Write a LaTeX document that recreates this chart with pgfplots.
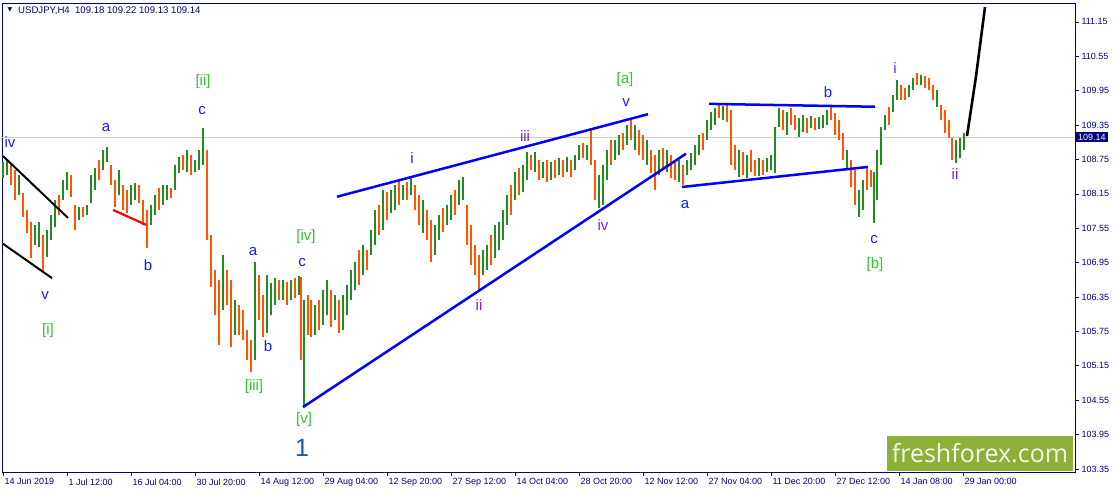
\documentclass[border=0pt]{standalone}
\usepackage{pgfplots}
\usepackage{pgfplotstable}
\pgfplotsset{compat=1.18}
\usepackage{fontspec}
\setmainfont{Liberation Sans}
\newfontfamily\logofont{Open Sans}
\newfontfamily\symfont{DejaVu Sans}
\definecolor{cgreen}{RGB}{34,139,34}
\definecolor{corange}{RGB}{255,85,0}
\definecolor{navy}{RGB}{0,0,128}
\definecolor{wblue}{RGB}{25,25,255}
\definecolor{wpurple}{RGB}{120,30,230}
\definecolor{wgreen}{RGB}{50,195,45}
\definecolor{onecol}{RGB}{30,80,200}
\definecolor{logocol}{RGB}{141,176,56}
\definecolor{pricegray}{RGB}{205,205,205}

\pgfplotstableread{
x lo hi
3 108.43 108.71
7 108.48 108.74
19 108.13 108.48
35 107.26 107.61
39 107.22 107.66
47 107.05 107.52
51 107.35 107.78
55 107.57 108.04
63 108.04 108.39
67 108.22 108.53
79 107.70 107.92
87 107.78 107.96
91 107.99 108.48
95 108.22 108.60
103 108.57 108.92
107 108.71 108.97
119 108.13 108.57
131 107.96 108.31
135 108.04 108.34
151 107.61 107.96
155 107.78 108.13
163 107.96 108.31
167 108.04 108.31
175 108.22 108.65
179 108.52 108.79
187 108.53 108.92
195 108.53 108.74
199 108.57 108.92
203 108.65 109.30
223 106.12 107.08
235 105.69 106.30
255 105.25 106.96
267 105.72 106.74
271 106.04 106.60
275 106.21 106.68
283 106.30 106.65
291 106.30 106.65
299 106.39 106.72
304 104.43 106.30
315 105.69 106.21
323 105.86 106.47
327 106.04 106.65
335 105.95 106.39
343 105.78 106.39
347 106.04 106.56
351 106.30 106.82
355 106.47 106.96
363 106.74 107.26
371 107.08 107.52
375 107.26 107.87
383 107.52 108.22
391 107.82 108.22
395 107.87 108.31
403 108.04 108.31
411 108.13 108.43
423 107.47 108.04
435 107.08 107.61
439 107.35 107.78
447 107.61 107.96
451 107.70 108.13
459 107.96 108.39
463 108.04 108.45
483 106.74 107.17
487 106.82 107.26
495 107.03 107.61
499 107.17 107.66
503 107.35 107.87
507 107.61 108.13
515 108.04 108.53
523 108.18 108.65
527 108.39 108.88
535 108.53 108.88
543 108.43 108.71
551 108.39 108.71
559 108.48 108.78
567 108.53 108.79
575 108.57 108.83
579 108.74 109.00
587 108.74 109.00
599 107.90 108.48
603 107.96 108.65
607 108.39 108.92
615 108.74 109.09
619 108.83 109.18
627 109.00 109.35
635 108.92 109.35
647 108.65 109.09
659 108.48 108.92
667 108.53 108.92
679 108.36 108.74
687 108.48 108.74
691 108.57 108.86
695 108.65 109.00
699 108.83 109.18
707 109.09 109.44
711 109.27 109.58
715 109.35 109.65
723 109.44 109.68
739 108.45 108.92
747 108.43 108.83
759 108.46 108.78
767 108.53 108.78
771 108.57 108.83
775 108.52 109.32
779 109.32 109.65
787 109.18 109.58
799 109.14 109.48
803 109.23 109.53
811 109.30 109.51
819 109.28 109.49
823 109.30 109.53
827 109.35 109.61
847 108.57 108.92
859 107.75 108.22
863 107.87 108.39
874 107.64 108.53
877 108.04 108.92
881 108.65 109.32
885 109.27 109.53
893 109.58 109.88
897 109.79 110.14
909 109.84 110.05
913 109.96 110.17
921 110.05 110.23
937 109.67 109.96
956 108.69 109.09
960 108.78 109.13
964 108.92 109.21
}\upbars

\pgfplotstableread{
x lo hi
11 108.31 108.65
15 108.04 108.57
23 107.75 108.17
27 107.47 107.87
31 107.03 107.66
43 106.79 107.43
59 107.78 108.13
71 108.10 108.48
75 107.52 107.96
83 107.75 107.92
99 108.39 108.74
111 108.31 108.65
115 107.92 108.39
123 107.87 108.31
127 107.82 108.22
139 107.99 108.31
143 107.61 108.04
147 107.21 107.87
159 107.87 108.25
171 108.08 108.25
183 108.57 108.83
191 108.48 108.83
207 107.35 108.92
211 106.53 107.43
215 106.04 106.82
219 105.51 106.65
227 106.21 106.82
231 105.48 106.65
239 105.69 106.21
243 105.60 106.12
247 105.25 105.78
251 105.04 105.60
259 105.95 106.74
263 105.65 106.39
279 106.30 106.65
287 106.21 106.61
295 106.33 106.68
301 105.25 106.70
308 105.69 106.39
311 105.65 106.30
319 105.78 106.30
331 105.83 106.47
339 105.72 106.30
359 106.56 107.17
367 106.82 107.17
379 107.43 107.96
387 107.70 108.18
399 107.96 108.39
407 108.04 108.36
415 107.87 108.31
419 107.61 108.13
427 107.35 107.87
431 106.96 107.70
443 107.49 107.90
455 107.78 108.22
467 107.26 107.96
471 106.91 107.61
475 106.74 107.26
479 106.46 107.08
491 106.91 107.43
511 107.78 108.31
519 108.13 108.60
531 108.57 108.83
539 108.39 108.74
547 108.36 108.74
555 108.43 108.74
563 108.45 108.74
571 108.45 108.74
583 108.78 109.04
591 108.65 109.27
595 108.04 108.74
611 108.65 109.09
623 108.92 109.21
631 109.09 109.46
639 108.83 109.27
643 108.74 109.18
651 108.52 108.92
655 108.22 108.83
663 108.57 108.95
671 108.43 108.83
675 108.39 108.74
683 108.31 108.65
703 108.92 109.21
719 109.48 109.70
727 109.41 109.70
731 108.65 109.61
735 108.57 109.00
743 108.48 108.88
751 108.53 108.92
755 108.46 108.74
763 108.48 108.74
783 109.27 109.61
791 109.35 109.65
795 109.27 109.53
807 109.21 109.48
815 109.27 109.48
831 109.44 109.67
835 109.18 109.56
839 109.09 109.44
843 108.74 109.21
851 108.27 108.74
855 107.96 108.57
867 108.22 108.62
871 108.27 108.57
889 109.35 109.67
901 109.79 110.05
905 109.79 110.00
917 110.05 110.26
925 110.00 110.21
929 109.96 110.17
933 109.79 110.05
941 109.44 109.70
945 109.21 109.61
949 109.13 109.44
952 108.74 109.13
}\downbars

\begin{document}
\begin{tikzpicture}
\useasboundingbox (0pt,0pt) rectangle (1115pt,492pt);
\begin{axis}[
  at={(2pt,20pt)}, anchor=south west,
  scale only axis, width=1073pt, height=469pt,
  xmin=2, xmax=1075, ymin=103.298, ymax=111.48,
  clip=false,
  axis line style={draw=navy, line width=0.8pt},
  tick style={draw=navy, line width=0.7pt},
  tick align=outside, major tick length=4pt,
  xtick={3,67,131,195,259,323,387,451,515,579,643,707,771,835,899,963},
  xticklabels={14 Jun 2019,1 Jul 12:00,16 Jul 04:00,30 Jul 20:00,14 Aug 12:00,29 Aug 04:00,12 Sep 20:00,27 Sep 12:00,14 Oct 04:00,28 Oct 20:00,12 Nov 12:00,27 Nov 04:00,11 Dec 20:00,27 Dec 12:00,14 Jan 08:00,29 Jan 00:00},
  xticklabel style={anchor=north west, xshift=-2pt, yshift=1pt, font=\fontsize{9}{10}\selectfont, text=navy},
  ytick={103.35,103.95,104.55,105.15,105.75,106.35,106.95,107.55,108.15,108.75,109.35,109.95,110.55,111.15},
  yticklabel pos=right,
  yticklabel style={anchor=west, xshift=-1pt, font=\fontsize{9}{10}\selectfont, text=navy,
    /pgf/number format/.cd, fixed, fixed zerofill, precision=2, assume math mode=true},
  xtick pos=bottom, ytick pos=right,
]
% current price line
\addplot[pricegray, line width=1pt] coordinates {(2,109.14) (1075,109.14)};
% candles
\addplot[draw=none, no markers, error bars/.cd, y dir=plus, y explicit,
  error mark=none, error bar style={draw=cgreen, line width=2.5pt}]
  table[x=x, y=lo, y error plus expr=\thisrow{hi}-\thisrow{lo}] {\upbars};
\addplot[draw=none, no markers, error bars/.cd, y dir=plus, y explicit,
  error mark=none, error bar style={draw=corange, line width=2.5pt}]
  table[x=x, y=lo, y error plus expr=\thisrow{hi}-\thisrow{lo}] {\downbars};
% trend lines
\addplot[black, line width=2pt] coordinates {(3,108.81) (68,107.73)};
\addplot[black, line width=2pt] coordinates {(3,107.28) (52,106.68)};
\addplot[red, line width=2.2pt] coordinates {(113,107.87) (146,107.61)};
\addplot[blue, line width=2.5pt] coordinates {(303,104.43) (686,108.85)};
\addplot[blue, line width=2.5pt] coordinates {(337,108.10) (648,109.54)};
\addplot[blue, line width=2.5pt] coordinates {(709,109.72) (875,109.67)};
\addplot[blue, line width=2.5pt] coordinates {(682,108.27) (868,108.62)};
\addplot[black, line width=2.6pt] coordinates {(967,109.16) (976,110.20) (985,111.41)};
% wave labels
\begin{scope}[every node/.style={font=\fontsize{15}{15}\selectfont, inner sep=0pt}]
\node[text=wblue] at (axis cs:10,109.06) {iv};
\node[text=wblue] at (axis cs:45,106.37) {v};
\node[text=wgreen] at (axis cs:48,105.76) {[i]};
\node[text=wblue] at (axis cs:106,109.30) {a};
\node[text=wblue] at (axis cs:148,106.91) {b};
\node[text=wgreen] at (axis cs:203,110.10) {[ii]};
\node[text=wblue] at (axis cs:202,109.61) {c};
\node[text=wblue] at (axis cs:253,107.15) {a};
\node[text=wblue] at (axis cs:268,105.50) {b};
\node[text=wgreen] at (axis cs:254,104.78) {[iii]};
\node[text=wgreen] at (axis cs:306,107.40) {[iv]};
\node[text=wblue] at (axis cs:302,106.96) {c};
\node[text=wgreen] at (axis cs:304,104.22) {[v]};
\node[text=onecol, font=\fontsize{25}{25}\selectfont] at (axis cs:302,103.72) {1};
\node[text=wblue] at (axis cs:412,108.78) {i};
\node[text=wpurple] at (axis cs:479,106.21) {ii};
\node[text=wpurple] at (axis cs:525,109.16) {iii};
\node[text=wpurple] at (axis cs:603,107.61) {iv};
\node[text=wblue] at (axis cs:626,109.74) {v};
\node[text=wgreen] at (axis cs:625,110.14) {[a]};
\node[text=wblue] at (axis cs:685,107.96) {a};
\node[text=wblue] at (axis cs:828,109.93) {b};
\node[text=wblue] at (axis cs:874,107.36) {c};
\node[text=wgreen] at (axis cs:875,106.91) {[b]};
\node[text=wpurple] at (axis cs:895,110.35) {i};
\node[text=wpurple] at (axis cs:955,108.50) {ii};
\end{scope}
% price marker
\node[fill=navy, text=white, anchor=west, inner xsep=2pt, inner ysep=1.5pt,
  font=\fontsize{9}{10}\selectfont] at (axis cs:1076,109.14) {109.14};
\end{axis}
% title
\node[anchor=center, text=navy, font=\symfont\fontsize{6}{6}\selectfont, inner sep=0pt] at (10pt,482pt) {▼};
\node[anchor=west, text=navy, font=\fontsize{9.6}{10}\selectfont, inner sep=0pt] at (18pt,481pt) {USDJPY,H4\ \ 109.18 109.22 109.13 109.14};
% logo
\fill[logocol] (887pt,21pt) rectangle (1073pt,56pt);
\node[text=white!92!logocol, font=\logofont\fontsize{25}{25}\selectfont, inner sep=0pt] at (980pt,39pt) {freshforex.com};
\end{tikzpicture}
\end{document}
